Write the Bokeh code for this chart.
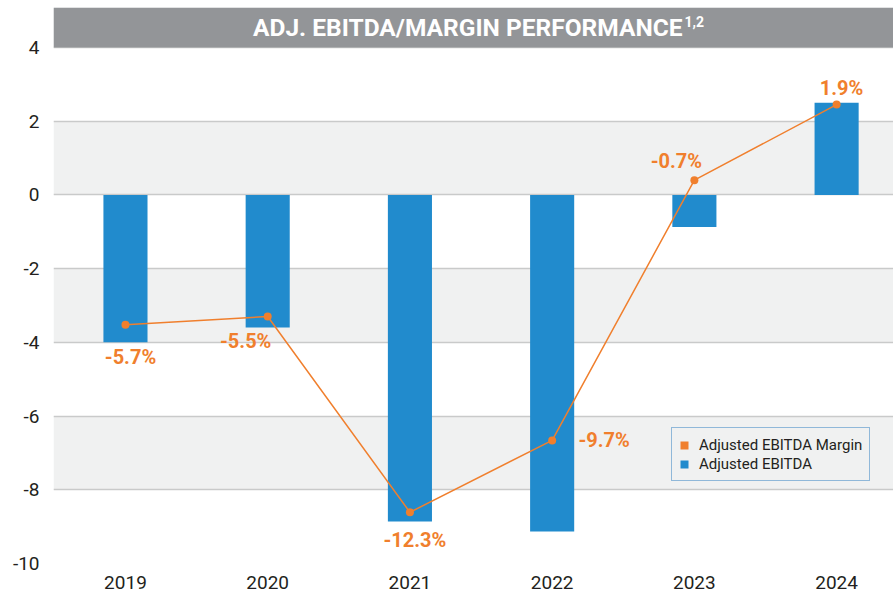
from bokeh.plotting import figure
from bokeh.models import (ColumnDataSource, FixedTicker, BoxAnnotation, Label,
                          Legend, LegendItem, Range1d)
from bokeh.embed import file_html
from bokeh.resources import INLINE
from bokeh.core.properties import value

# ---- data ----
years = [2019, 2020, 2021, 2022, 2023, 2024]
ebitda = [-4.0, -3.6, -8.86, -9.13, -0.87, 2.50]
margin_y = [-3.52, -3.30, -8.61, -6.66, 0.40, 2.45]       # plotted position of the margin line
margin_pct = [-5.7, -5.5, -12.3, -9.7, -0.7, 1.9]          # margin values shown as labels
y_ticks = [-10, -8, -6, -4, -2, 0, 2, 4]
title_text = "ADJ. EBITDA/MARGIN PERFORMANCE"
title_sup = "1,2"

# ---- styles ----
BLUE = "#218bcd"
ORANGE = "#f07f2d"
GREY_BAR = "#939598"
BAND = "#f0f1f1"
GRID = "#c9caca"
TEXT = "#231f20"

# label offsets in screen pixels (style only)
lab_dx = [5, -22, 5, 52, -18, 5]
lab_dy = [32, 24, 28, 0, -19, -17]

labels = [f"{v:.1f}%" for v in margin_pct]

W, H = 893, 594
BL, BT, BB = 53, 7, 31
x_start, x_end = 2018.494, 2024.40
y_start, y_end = -10, 5.085

p = figure(width=W, height=H, output_backend="svg", toolbar_location=None,
           x_range=Range1d(x_start, x_end), y_range=Range1d(y_start, y_end),
           min_border_left=BL, min_border_right=0, min_border_top=BT,
           min_border_bottom=BB)
p.outline_line_color = None
p.background_fill_color = "white"
p.border_fill_color = "white"

# grid with alternating bands
p.xgrid.visible = False
p.ygrid.ticker = FixedTicker(ticks=y_ticks)
p.ygrid.grid_line_color = GRID
p.ygrid.grid_line_width = 1.5
p.ygrid.band_fill_color = BAND
p.ygrid.band_fill_alpha = 1

# axes
p.yaxis.ticker = FixedTicker(ticks=y_ticks)
p.yaxis.major_label_overrides = {t: str(t) for t in y_ticks}
p.xaxis.ticker = FixedTicker(ticks=years)
p.xaxis.major_label_overrides = {y: str(y) for y in years}
for ax in (p.xaxis[0], p.yaxis[0]):
    ax.axis_line_color = None
    ax.major_tick_line_color = None
    ax.minor_tick_line_color = None
    ax.major_tick_out = 0
    ax.major_tick_in = 0
    ax.minor_tick_out = 0
    ax.major_label_text_font = "Roboto"
    ax.major_label_text_font_size = "19px"
    ax.major_label_text_color = TEXT
p.yaxis.major_label_standoff = 14
p.xaxis.major_label_standoff = 12

# bars
src = ColumnDataSource(dict(x=years, top=ebitda, my=margin_y, lab=labels,
                            dx=lab_dx, dy=lab_dy))
bars = p.vbar(x="x", top="top", bottom=0, width=0.31, source=src,
              fill_color=BLUE, line_color=None)

# margin line + dots + labels
p.line(x="x", y="my", source=src, line_color=ORANGE, line_width=1.5)
p.scatter(x="x", y="my", source=src, size=8, fill_color=ORANGE, line_color=None)
p.text(x="x", y="my", text="lab", source=src, x_offset="dx", y_offset="dy",
       text_align="center", text_baseline="middle",
       text_font=value("Roboto"), text_font_style="bold",
       text_font_size="20px", text_color=ORANGE)

# legend-only renderer for the margin swatch (zero-size, invisible on the plot)
swatch = p.vbar(x=years[:1], top=[0], bottom=0, width=0, fill_color=ORANGE,
                line_color=None)

legend = Legend(items=[LegendItem(label="Adjusted EBITDA Margin", renderers=[swatch]),
                       LegendItem(label="Adjusted EBITDA", renderers=[bars])],
                location=(618, 82), orientation="vertical")
legend.margin = 0
legend.padding = 7
legend.spacing = 0
legend.glyph_width = 10
legend.glyph_height = 10
legend.label_height = 19
legend.label_standoff = 10
legend.label_text_font = "Roboto"
legend.label_text_font_size = "15px"
legend.label_text_color = TEXT
legend.border_line_color = "#2f7fc1"
legend.border_line_width = 1.5
legend.background_fill_color = BAND
legend.background_fill_alpha = 1
p.add_layout(legend, "center")

# title bar
p.add_layout(BoxAnnotation(bottom=y_ticks[-1], fill_color=GREY_BAR, fill_alpha=1,
                           line_color=None, level="overlay"))
tx = x_start + (682 - BL) / ((W - BL) / (x_end - x_start))
p.add_layout(Label(x=tx, y=4.53, text=title_text, text_align="right",
                   text_baseline="middle", text_font="Roboto",
                   text_font_style="bold", text_font_size="24.5px",
                   text_color="white", level="overlay"))
p.add_layout(Label(x=tx, y=4.53, x_offset=2, y_offset=6, text=title_sup,
                   text_align="left", text_baseline="middle", text_font="Roboto",
                   text_font_style="bold", text_font_size="14px",
                   text_color="white", level="overlay"))

open("out.html", "w").write(file_html(p, INLINE))
